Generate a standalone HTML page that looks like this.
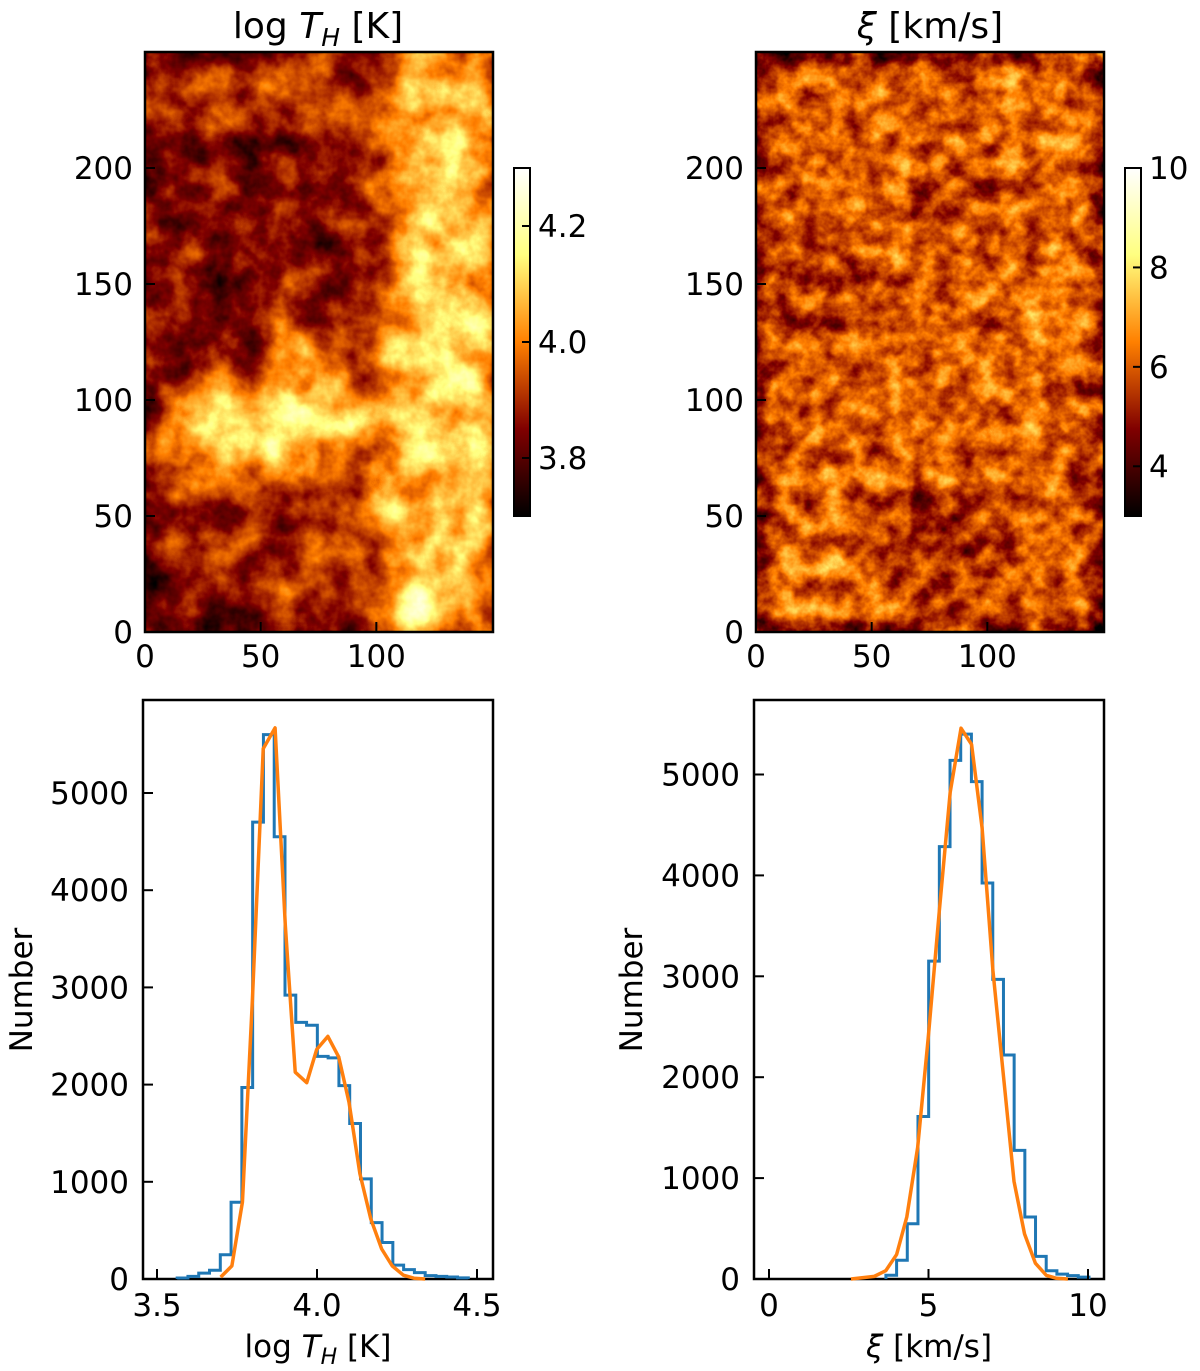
<!DOCTYPE html>
<html><head><meta charset="utf-8">
<style>
html,body{margin:0;padding:0;background:#fff;}
svg{display:block;font-family:"DejaVu Sans","Liberation Sans",sans-serif;}
</style></head>
<body>
<svg id="fig" width="1200" height="1371" viewBox="0 0 1200 1371" xmlns="http://www.w3.org/2000/svg">
<defs>
 <filter id="texL" x="0" y="0" width="100%" height="100%" color-interpolation-filters="sRGB">
  <feGaussianBlur in="SourceGraphic" stdDeviation="16" result="b"/>
  <feTurbulence type="fractalNoise" baseFrequency="0.03" numOctaves="4" seed="3" result="n"/>
  <feColorMatrix in="n" type="matrix" values="1 0 0 0 0  1 0 0 0 0  1 0 0 0 0  0 0 0 0 1" result="ng"/>
  <feComposite in="b" in2="ng" operator="arithmetic" k1="0" k2="1" k3="0.6" k4="-0.3" result="s"/>
  <feComponentTransfer in="s">
   <feFuncR type="table" tableValues="0 0.5 1 1 1"/>
   <feFuncG type="table" tableValues="0 0 0.5 1 1"/>
   <feFuncB type="table" tableValues="0 0 0 0.5 1"/>
   <feFuncA type="linear" slope="0" intercept="1"/>
  </feComponentTransfer>
 </filter>
 <filter id="texR" x="0" y="0" width="100%" height="100%" color-interpolation-filters="sRGB">
  <feGaussianBlur in="SourceGraphic" stdDeviation="16" result="b"/>
  <feTurbulence type="fractalNoise" baseFrequency="0.045" numOctaves="4" seed="11" result="n"/>
  <feColorMatrix in="n" type="matrix" values="1 0 0 0 0  1 0 0 0 0  1 0 0 0 0  0 0 0 0 1" result="ng"/>
  <feComposite in="b" in2="ng" operator="arithmetic" k1="0" k2="1" k3="0.65" k4="-0.325" result="s"/>
  <feComponentTransfer in="s">
   <feFuncR type="table" tableValues="0 0.5 1 1 1"/>
   <feFuncG type="table" tableValues="0 0 0.5 1 1"/>
   <feFuncB type="table" tableValues="0 0 0 0.5 1"/>
   <feFuncA type="linear" slope="0" intercept="1"/>
  </feComponentTransfer>
 </filter>
 <clipPath id="clipL"><rect x="145" y="52" width="347" height="580"/></clipPath>
 <clipPath id="clipR"><rect x="756" y="52" width="348" height="580"/></clipPath>
 <linearGradient id="afmhot" x1="0" y1="1" x2="0" y2="0">
  <stop offset="0" stop-color="#000"/>
  <stop offset="0.25" stop-color="#800000"/>
  <stop offset="0.5" stop-color="#ff8000"/>
  <stop offset="0.75" stop-color="#ffff80"/>
  <stop offset="1" stop-color="#fff"/>
 </linearGradient>
</defs>

<g clip-path="url(#clipL)">
 <g filter="url(#texL)">
  <rect x="145" y="52" width="347" height="580" fill="rgb(88,88,88)"/>
  <rect x="145" y="52" width="240" height="130" fill="rgb(85,85,85)"/>
  <rect x="395" y="52" width="110" height="580" fill="rgb(160,160,160)"/>
  <ellipse cx="300" cy="80" rx="60" ry="40" fill="rgb(100,100,100)"/>
  <ellipse cx="440" cy="100" rx="60" ry="50" fill="rgb(165,165,165)"/>
  <ellipse cx="240" cy="250" rx="130" ry="130" fill="rgb(62,62,62)"/>
  <ellipse cx="175" cy="320" rx="50" ry="80" fill="rgb(58,58,58)"/>
  <ellipse cx="265" cy="425" rx="110" ry="45" fill="rgb(180,180,180)"/>
  <ellipse cx="300" cy="355" rx="30" ry="40" fill="rgb(140,140,140)"/>
  <ellipse cx="440" cy="380" rx="55" ry="90" fill="rgb(180,180,180)"/>
  <ellipse cx="280" cy="560" rx="120" ry="60" fill="rgb(80,80,80)"/>
  <ellipse cx="180" cy="600" rx="50" ry="30" fill="rgb(60,60,60)"/>
  <ellipse cx="410" cy="615" rx="35" ry="25" fill="rgb(210,210,210)"/>
  <ellipse cx="420" cy="500" rx="50" ry="60" fill="rgb(160,160,160)"/>
 </g>
</g>
<g clip-path="url(#clipR)">
 <g filter="url(#texR)">
  <rect x="756" y="52" width="348" height="580" fill="rgb(112,112,112)"/>
  <ellipse cx="940" cy="540" rx="70" ry="60" fill="rgb(85,85,85)"/>
  <ellipse cx="830" cy="280" rx="60" ry="70" fill="rgb(95,95,95)"/>
  <ellipse cx="960" cy="200" rx="60" ry="50" fill="rgb(98,98,98)"/>
  <ellipse cx="800" cy="580" rx="40" ry="40" fill="rgb(130,130,130)"/>
  <ellipse cx="1070" cy="300" rx="40" ry="60" fill="rgb(128,128,128)"/>
  <ellipse cx="1060" cy="120" rx="50" ry="50" fill="rgb(125,125,125)"/>
 </g>
</g>

<g id="dyn"></g>
<g id="txt" font-size="31" fill="#000"></g>
</svg>

<script>
// Left histogram (log T_H)
const tBinStart = 3.563;
const tBinWidth = 0.0337;
const tCounts = [10,27,60,90,250,790,1970,4700,5600,4550,2920,2640,2610,2290,2275,1990,1600,1030,580,375,143,97,66,35,27,20,12];
const tFitX = [3.699,3.734,3.767,3.798,3.832,3.869,3.901,3.932,3.968,3.999,4.034,4.068,4.100,4.134,4.168,4.202,4.235,4.270,4.303,4.338];
const tFitY = [19,135,793,2864,5457,5670,3638,2128,2020,2361,2496,2283,1819,1084,619,310,135,39,8,0];
const tXTicks = [3.5,4.0,4.5];
const tXTickLabels = ["3.5","4.0","4.5"];
const tYTicks = [0,1000,2000,3000,4000,5000];
// Right histogram (xi)
const xBinStart = 3.665;
const xBinWidth = 0.335;
const xCounts = [37,186,548,1610,3150,4285,5140,5400,4930,3925,2970,2220,1275,615,224,82,48,34,19];
const xFitX = [2.57,3.30,3.66,4.00,4.32,4.66,4.99,5.34,5.68,6.02,6.35,6.68,7.02,7.35,7.68,8.01,8.35,8.69,9.01,9.37];
const xFitY = [0,26,82,242,615,1304,2385,3651,4825,5459,5298,4471,3055,2012,969,447,157,37,7,0];
const xXTicks = [0,5,10];
const xYTicks = [0,1000,2000,3000,4000,5000];
// Map ticks
const mapXTicks = [0,50,100];
const mapYTicks = [0,50,100,150,200];
const cbLTicks = [3.8,4.0,4.2];
const cbRTicks = [4,6,8,10];

const NS = "http://www.w3.org/2000/svg";
const dyn = document.getElementById('dyn');
const txt = document.getElementById('txt');
function mk(tag, attrs, parent){
  const e = document.createElementNS(NS, tag);
  for (const k in attrs) e.setAttribute(k, attrs[k]);
  (parent||dyn).appendChild(e);
  return e;
}
function text(x,y,s,anchor,name,size){
  const t = mk('text',{x:x,y:y,'text-anchor':anchor||'middle','font-size':size||31},txt);
  t.textContent = s;
  
  
  return t;
}
function frame(x,y,w,h,name){
  const r = mk('rect',{x:x,y:y,width:w,height:h,fill:'none',stroke:'#000','stroke-width':2.5});
  
  
}
function tick(x1,y1,x2,y2){
  const l = mk('line',{x1:x1,y1:y1,x2:x2,y2:y2,stroke:'#000','stroke-width':2});
  
  
}

function mapAxes(x0, cbx, cbTicks, cbMin, cbMax, cbFmt){
  const sx = v => x0 + v*347/150;
  const sy = v => 632 - v*580/250;
  frame(x0,52,348,580,'map-frame');
  mapXTicks.forEach(v=>{ tick(sx(v),632,sx(v),622); text(sx(v),667,String(v),'middle','map-x-tick-label'); });
  mapYTicks.forEach(v=>{ tick(x0,sy(v),x0+10,sy(v)); text(x0-12,sy(v)+11,String(v),'end','map-y-tick-label'); });
  const cb = mk('rect',{x:cbx,y:168,width:16,height:348,fill:'url(#afmhot)',stroke:'#000','stroke-width':2});
  
  
  const cy = v => 516 - (v-cbMin)/(cbMax-cbMin)*348;
  cbTicks.forEach(v=>{ tick(cbx+16,cy(v),cbx+8,cy(v)); text(cbx+24,cy(v)+11,cbFmt(v),'start','colorbar-tick-label'); });
}
mapAxes(145,514,cbLTicks,3.7,4.3,v=>v.toFixed(1));
mapAxes(756,1125,cbRTicks,3,10,v=>String(v));

const t1 = mk('text',{x:318,y:38,'text-anchor':'middle','font-size':36},txt);


t1.innerHTML = 'log <tspan font-style="italic">T</tspan><tspan font-style="italic" font-size="25" dy="8">H</tspan><tspan dy="-8"> [K]</tspan>';
const t2 = mk('text',{x:930,y:38,'text-anchor':'middle','font-size':36},txt);


t2.innerHTML = '<tspan font-style="italic">ξ</tspan> [km/s]';

function hist(fx0, x0, x1, dMin, dMax, yPerUnit, binStart, binW, counts, fx, fy, xTicks, xLabels, yTicks, nameP){
  const sx = v => x0 + (v - dMin)/(dMax - dMin)*(x1 - x0);
  const sy = v => 1279 - v*yPerUnit;
  frame(fx0,700,350,579,nameP+'-histogram-frame');
  let d = 'M'+sx(binStart)+','+sy(0);
  counts.forEach((c,i)=>{
    const a = binStart + i*binW, b = a + binW;
    d += ' L'+sx(a)+','+sy(c)+' L'+sx(b)+','+sy(c);
  });
  d += ' L'+sx(binStart+counts.length*binW)+','+sy(0);
  const h = mk('path',{d:d,fill:'none',stroke:'#1f77b4','stroke-width':3});
  
  
  const pts = fx.map((v,i)=>sx(v)+','+sy(fy[i])).join(' ');
  const f = mk('polyline',{points:pts,fill:'none',stroke:'#ff7f0e','stroke-width':3.5,'stroke-linejoin':'round'});
  
  
  xTicks.forEach((v,i)=>{ tick(sx(v),1279,sx(v),1269); text(sx(v),1316,xLabels[i],'middle',nameP+'-x-tick-label'); });
  yTicks.forEach(v=>{ tick(fx0,sy(v),fx0+10,sy(v)); text(fx0-14,sy(v)+11,String(v),'end',nameP+'-y-tick-label'); });
}
hist(143,157,477,3.5,4.5,0.0972,tBinStart,tBinWidth,tCounts,tFitX,tFitY,tXTicks,tXTickLabels,tYTicks,'temp');
hist(754,769,1088,0,10,0.1009,xBinStart,xBinWidth,xCounts,xFitX,xFitY,xXTicks,xXTicks.map(String),xYTicks,'xi');

const xl1 = mk('text',{x:318,y:1357,'text-anchor':'middle','font-size':31},txt);


xl1.innerHTML = 'log <tspan font-style="italic">T</tspan><tspan font-style="italic" font-size="22" dy="7">H</tspan><tspan dy="-7"> [K]</tspan>';
const xl2 = mk('text',{x:929,y:1357,'text-anchor':'middle','font-size':31},txt);


xl2.innerHTML = '<tspan font-style="italic">ξ</tspan> [km/s]';
[[32,'temp-y-axis-title'],[642,'xi-y-axis-title']].forEach(([x,n])=>{
  const t = mk('text',{x:x,y:990,'text-anchor':'middle','font-size':31,transform:'rotate(-90 '+x+' 990)'},txt);
  t.textContent = 'Number';
  
  
});
</script>
</body></html>
